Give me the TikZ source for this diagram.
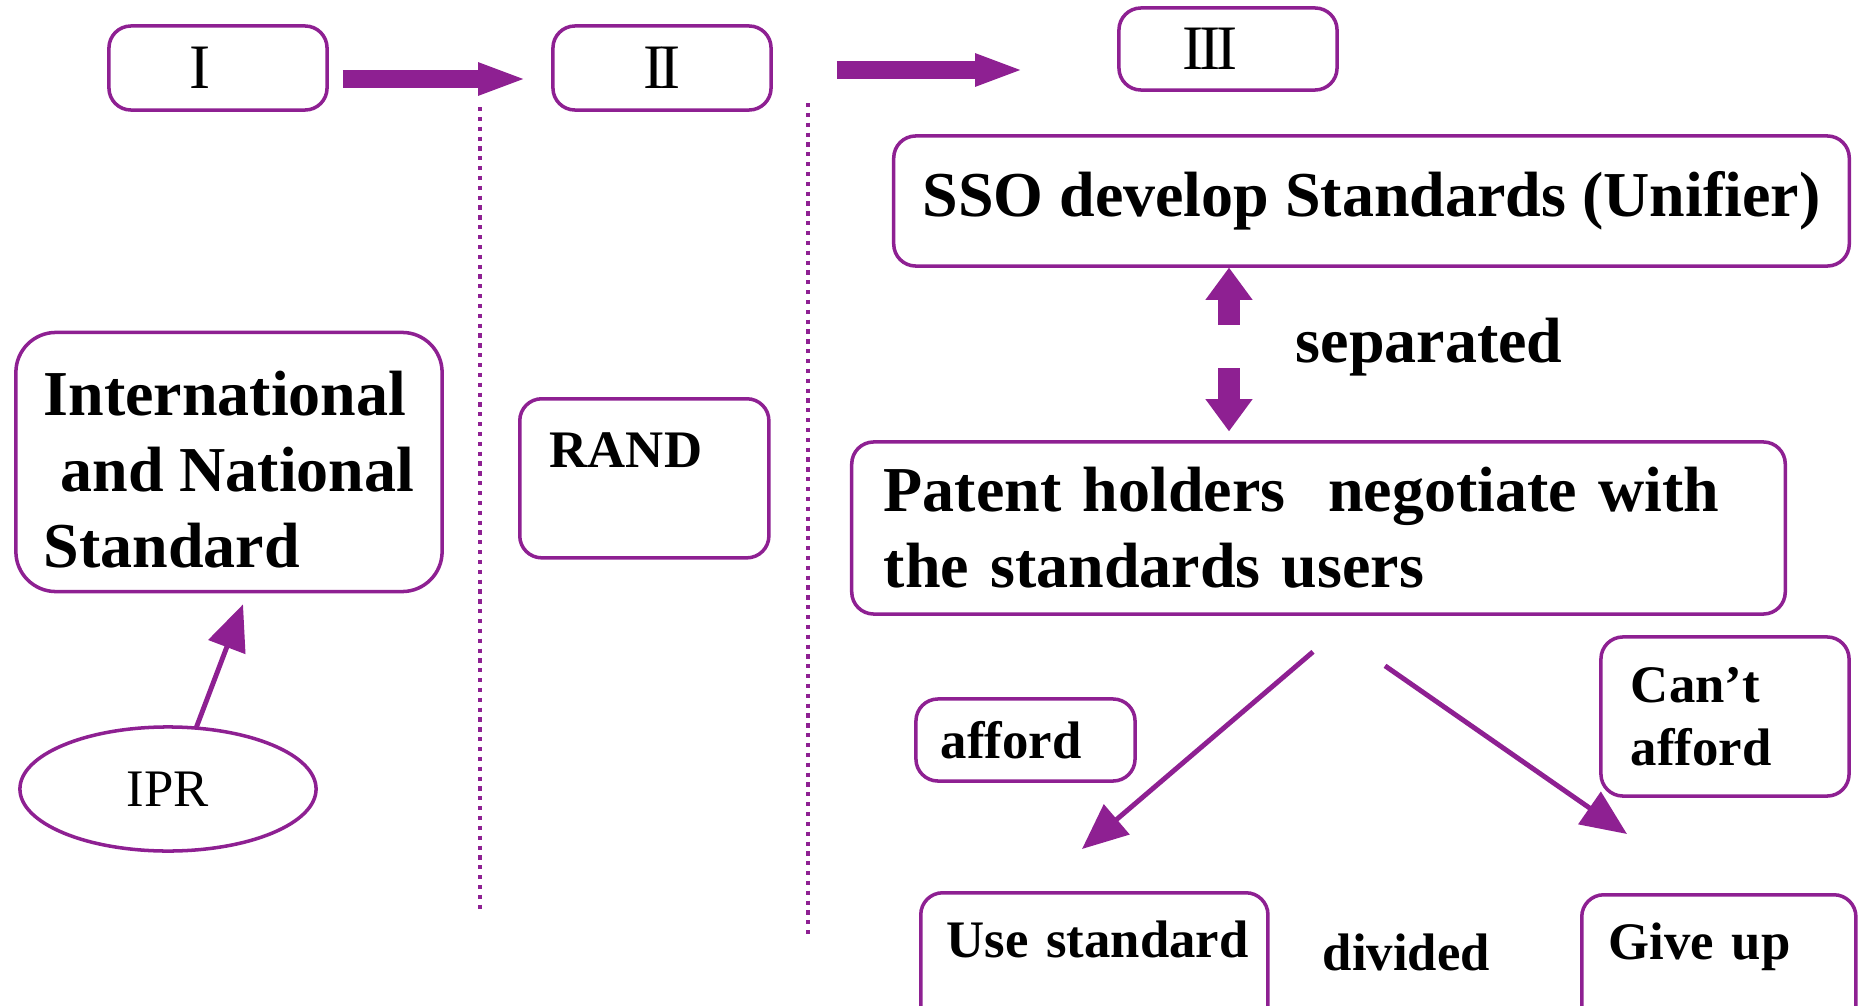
\documentclass[tikz,border=0pt]{standalone}
\usepackage{fontspec}
\setmainfont{Liberation Serif}
\usetikzlibrary{positioning, shapes.geometric, arrows.meta, calc}
\definecolor{plum}{RGB}{142,32,146}

\begin{document}
\begin{tikzpicture}[
  x=0.01cm, y=-0.01cm,
  every node/.style={font=\fontsize{18.2}{21.6}\selectfont\bfseries},
  box/.style={draw=plum, line width=1pt, rounded corners=0.22cm, inner sep=0pt, align=left},
  stage/.style={box, minimum width=2.18cm, minimum height=0.84cm, font=\fontsize{18}{20}\selectfont},
  small/.style={font=\fontsize{15}{17.9}\selectfont\bfseries},
  fat/.style={plum, line width=5.1pt, -{Triangle[length=12.8pt, width=9.6pt, line width=0pt]}},
  updown/.style={plum, line width=6.5pt, -{Triangle[length=9.1pt, width=13.4pt, line width=0pt]}},
  thin/.style={plum, line width=1.4pt, -{Triangle[length=13pt, width=11pt]}},
  divider/.style={plum, line width=1.2pt, dash pattern=on 1.2pt off 1.6pt}
]
\useasboundingbox (0,0) rectangle (1860,1006);
\clip (0,0) rectangle (1860,1006);

% Stage headers
\node[stage] (one) at (218,68) {I\hspace{0.36cm}};
\node[stage] (two) at (662,68) {I\kern-1.2pt I};
\node[stage, minimum height=0.82cm] (three) at (1228,49) {I\kern-1.2pt I\kern-1.2pt I\hspace{0.36cm}};
\draw[fat] ($(one.east)+(14,11)$) -- ($(two.west)+(-28,11)$);
\draw[fat] ($(two.east)+(64,2)$) -- ($(three.west)+(-97,21)$);

% Dividers between the stages
\draw[divider] (480,107) -- (480,913);
\draw[divider] (808,103) -- (808,937);

% Stage I
\node[box, rounded corners=0.4cm, minimum width=4.26cm, minimum height=2.59cm] (intl) at (229,462)
  {\rule{0pt}{17pt}International\\\hspace{0.17cm}and National\\Standard};
\node[draw=plum, line width=1pt, ellipse, minimum width=2.96cm, minimum height=1.24cm, inner sep=0pt,
  font=\fontsize{15}{17}\selectfont] (ipr) at (168,789) {IPR};
\draw[thin] ([xshift=0.28cm, yshift=-0.03cm]ipr.north) -- ([xshift=0.14cm, yshift=-0.11cm]intl.south);

% Stage II
\node[box, small, anchor=north west, text width=1.89cm, inner xsep=0.3cm, text height=0.69cm, text depth=0.9cm] (rand) at (518,397) {RAND};

% Stage III
\node[box, minimum width=9.55cm, minimum height=1.3cm] (sso) at (1371.5,201) {SSO develop Standards (Unifier)};
\node[anchor=base west, inner sep=0pt] (sep) at (1295,362) {separated};
\node[box, minimum width=9.33cm, minimum height=1.72cm, text width=8.69cm] (pat) at (1318.5,528)
  {Patent holders\ \ negotiate with\\the standards users};
\coordinate (upfoot) at (1229,325);
\coordinate (downtop) at (1229,368);
\draw[updown] (upfoot) -- (upfoot |- sso.south);
\draw[updown] (downtop) -- ($(downtop |- pat.north)+(0,-9)$);

% Outcomes
\node[box, small, minimum width=2.19cm, minimum height=0.82cm, text width=1.69cm] (aff) at (1025.5,740) {afford};
\node[box, small, minimum width=2.48cm, minimum height=1.59cm, text width=1.88cm] (cant) at (1725,716.5) {Can’t\\afford};
\node[box, small, anchor=north west, text width=2.95cm, inner xsep=0.26cm, text height=0.65cm, text depth=0.8cm] (use) at (919,891) {\mbox{Use standard}};
\node[box, small, anchor=north west, text width=2.2cm, inner xsep=0.27cm, text height=0.65cm, text depth=0.8cm] (give) at (1580,893) {\mbox{Give up}};
\node[small, anchor=base west, inner sep=0pt] (div) at (1322,970) {divided};
\draw[thin] ($(pat.south)+(-5.5,36)$) -- ($(use.north west)+(163,-42)$);
\draw[thin] ($(pat.south)+(66.5,50)$) -- ($(give.north west)+(47,-59)$);

\end{tikzpicture}
\end{document}
